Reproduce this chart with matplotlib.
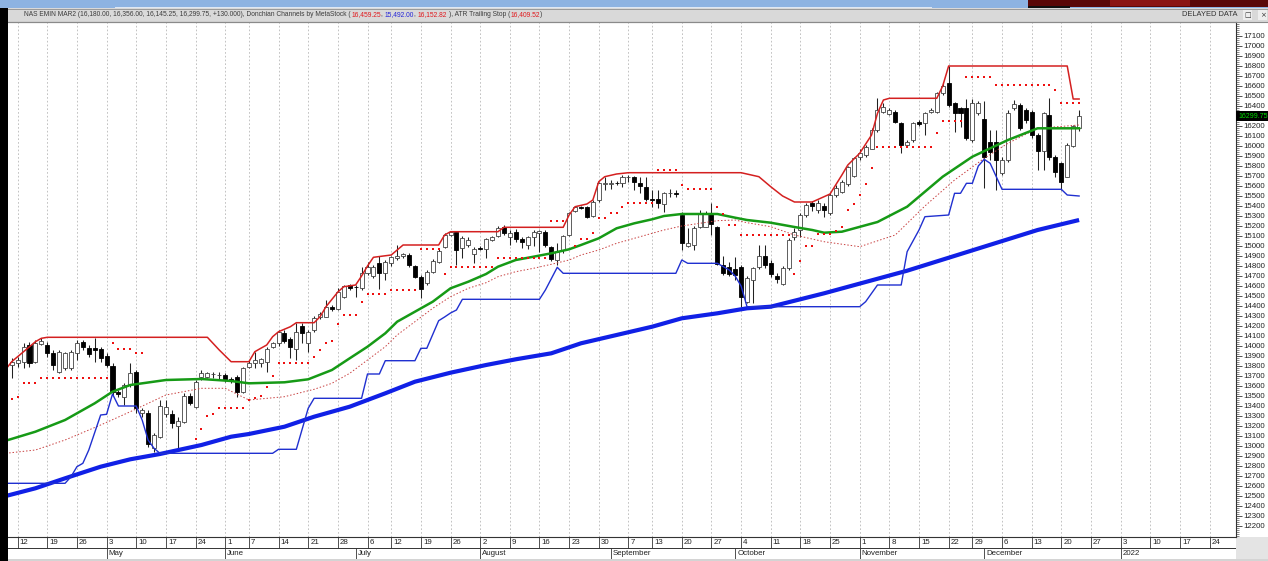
import numpy as np
import pandas as pd
import matplotlib
matplotlib.use("Agg")
import matplotlib.pyplot as plt
from matplotlib.patches import Rectangle

W, H = 1268, 561
FONT = "Liberation Sans"

# ---------------- data ----------------
holidays = ["2021-05-31", "2021-07-05", "2021-09-06", "2021-11-25"]

ohlc = [
    (13810, 13877, 13677, 13843), (13827, 13887, 13793, 13860), (13843, 14027, 13777, 13993),
    (14010, 14043, 13793, 13827), (13843, 14060, 13827, 14033), (14020, 14077, 14010, 14053),
    (14010, 14043, 13893, 13927), (13927, 13960, 13760, 13810), (13743, 13960, 13727, 13937),
    (13777, 13943, 13760, 13927), (13777, 13960, 13760, 13943), (13933, 14060, 13860, 14033),
    (14043, 14060, 13960, 13993), (13977, 14010, 13893, 13917), (13977, 14077, 13843, 13960),
    (13967, 13993, 13843, 13877), (13900, 13927, 13793, 13810), (13800, 13833, 13510, 13543),
    (13543, 13560, 13493, 13520), (13493, 13627, 13410, 13610), (13610, 13833, 13593, 13727),
    (13743, 13760, 13327, 13377), (13333, 13377, 13293, 13360), (13333, 13360, 12993, 13020),
    (12977, 13127, 12943, 13110), (13093, 13460, 13077, 13400), (13320, 13460, 13293, 13393),
    (13320, 13360, 13177, 13227), (13200, 13293, 12977, 13250), (13243, 13527, 13227, 13500),
    (13500, 13527, 13410, 13427), (13393, 13660, 13377, 13643), (13687, 13760, 13660, 13727),
    (13693, 13743, 13677, 13727), (13717, 13743, 13677, 13720), (13710, 13743, 13670, 13713),
    (13710, 13733, 13643, 13660), (13670, 13693, 13627, 13660), (13693, 13710, 13487, 13543),
    (13543, 13793, 13527, 13777), (13793, 13860, 13777, 13827), (13827, 13943, 13777, 13860),
    (13827, 13877, 13793, 13867), (13843, 13987, 13743, 13967), (13993, 14040, 13977, 14027),
    (14027, 14160, 14000, 14143), (14133, 14160, 14027, 14053), (14067, 14093, 13877, 13993),
    (13967, 14227, 13860, 14143), (14200, 14227, 14027, 14133), (14033, 14160, 13943, 14143),
    (14160, 14300, 14143, 14277), (14293, 14340, 14270, 14320), (14293, 14460, 14293, 14393),
    (14393, 14410, 14350, 14367), (14367, 14577, 14360, 14543), (14493, 14610, 14477, 14600),
    (14610, 14620, 14560, 14577), (14593, 14610, 14493, 14587), (14577, 14793, 14560, 14733),
    (14727, 14843, 14710, 14793), (14700, 14810, 14680, 14793), (14827, 14900, 14567, 14733),
    (14727, 14860, 14660, 14843), (14827, 14900, 14800, 14887), (14877, 15010, 14860, 14900),
    (14900, 14930, 14880, 14920), (14910, 14927, 14793, 14810), (14800, 14810, 14677, 14687),
    (14693, 14710, 14477, 14567), (14627, 14760, 14610, 14743), (14743, 14867, 14727, 14850),
    (14843, 14967, 14827, 14953), (14993, 15133, 14977, 15110), (15110, 15150, 15100, 15137),
    (15143, 15143, 14810, 14960), (14977, 15100, 14877, 15077), (15010, 15087, 14987, 15060),
    (14920, 14987, 14833, 14967), (14977, 15000, 14960, 14970), (14967, 15077, 14877, 15067),
    (15060, 15100, 15050, 15087), (15100, 15200, 15087, 15177), (15187, 15210, 15110, 15127),
    (15093, 15160, 15010, 15133), (15143, 15167, 15043, 15067), (15067, 15087, 14977, 15043),
    (15010, 15100, 14967, 15087), (15093, 15160, 15000, 15143), (15127, 15160, 14943, 15150),
    (15143, 15160, 14993, 15010), (14987, 15000, 14853, 14867), (14860, 15027, 14810, 14943),
    (14960, 15110, 14927, 15100), (15110, 15343, 15100, 15327), (15353, 15400, 15340, 15393),
    (15390, 15400, 15370, 15385), (15387, 15400, 15277, 15293), (15300, 15460, 15293, 15443),
    (15460, 15643, 15443, 15627), (15625, 15693, 15560, 15630), (15625, 15660, 15567, 15630),
    (15633, 15650, 15610, 15630), (15627, 15710, 15593, 15687), (15690, 15710, 15643, 15695),
    (15687, 15700, 15560, 15643), (15633, 15687, 15533, 15600), (15587, 15687, 15453, 15467),
    (15470, 15560, 15393, 15465), (15467, 15560, 15377, 15427), (15420, 15543, 15343, 15533),
    (15530, 15567, 15493, 15533), (15527, 15560, 15493, 15525), (15310, 15343, 14960, 15033),
    (15000, 15177, 14993, 15033), (15010, 15200, 14960, 15177), (15193, 15360, 15177, 15327),
    (15193, 15350, 15187, 15333), (15327, 15427, 15110, 15220), (15193, 15200, 14810, 14820),
    (14810, 14900, 14710, 14727), (14787, 14843, 14700, 14720), (14767, 14887, 14660, 14710),
    (14793, 14810, 14393, 14493), (14443, 14700, 14427, 14677), (14660, 14793, 14427, 14777),
    (14787, 15010, 14767, 14900), (14900, 15010, 14777, 14810), (14827, 14860, 14693, 14720),
    (14703, 14727, 14627, 14673), (14620, 14800, 14610, 14777), (14777, 15077, 14760, 15060),
    (15087, 15177, 15060, 15143), (15160, 15327, 15093, 15310), (15310, 15427, 15293, 15410),
    (15433, 15453, 15353, 15400), (15360, 15460, 15327, 15427), (15400, 15427, 15293, 15360),
    (15333, 15527, 15310, 15510), (15510, 15610, 15493, 15577), (15543, 15660, 15527, 15640),
    (15620, 15800, 15600, 15793), (15700, 15893, 15693, 15877), (15893, 15967, 15860, 15927),
    (15910, 16010, 15893, 15993), (15967, 16177, 15967, 16160), (16160, 16477, 16143, 16360),
    (16343, 16427, 16327, 16387), (16320, 16377, 16310, 16360), (16343, 16360, 16227, 16243),
    (16227, 16243, 15927, 16010), (16010, 16060, 16000, 16043), (16060, 16243, 16043, 16227),
    (16243, 16260, 16200, 16220), (16227, 16343, 16110, 16333), (16343, 16377, 16327, 16360),
    (16343, 16543, 16327, 16527), (16527, 16643, 16510, 16600), (16633, 16800, 16393, 16410),
    (16427, 16443, 16143, 16333), (16377, 16393, 16193, 16327), (16383, 16467, 16060, 16077),
    (16060, 16467, 16043, 16427), (16327, 16453, 16310, 16433), (16267, 16453, 15577, 15893),
    (16043, 16160, 15860, 15943), (16043, 16160, 15560, 15860), (15727, 15893, 15710, 15860),
    (15860, 16360, 15843, 16327), (16377, 16460, 16360, 16420), (16410, 16427, 16160, 16177),
    (16360, 16377, 16230, 16260), (16343, 16360, 16077, 16110), (16110, 16127, 15760, 15953),
    (15953, 16343, 15760, 16327), (16310, 16477, 15860, 15893), (15887, 15910, 15693, 15743),
    (15827, 15843, 15560, 15643), (15693, 16027, 15687, 16010), (16000, 16210, 15987, 16200),
    (16180, 16356, 16145.25, 16299.75),
]

donchian_upper = [(-1, 13767), (0, 13843), (2, 13943), (4, 14043), (5, 14077), (6, 14087), (33, 14087),
                  (35, 13960), (37, 13843), (40, 13843), (41, 13943), (42, 13977), (43, 14010), (44, 14093),
                  (45, 14143), (47, 14193), (48, 14233), (51, 14233), (52, 14293), (53, 14393), (55, 14540),
                  (56, 14593), (58, 14610), (59, 14700), (60, 14800), (61, 14887), (64, 14910), (65, 14960),
                  (66, 15010), (72, 15010), (73, 15110), (74, 15143), (82, 15143), (83, 15187), (93, 15187),
                  (94, 15310), (95, 15393), (97, 15420), (98, 15460), (99, 15643), (100, 15693), (102, 15720),
                  (104, 15733), (123, 15733), (126, 15693), (128, 15593), (130, 15500), (132, 15440),
                  (135, 15440), (138, 15520), (140, 15710), (141, 15810), (143, 15927), (145, 16110),
                  (146, 16327), (147, 16460), (148, 16477), (156, 16477), (157, 16600), (158, 16800),
                  (178, 16800), (179, 16470), (180, 16470)]
donchian_lower = [(-1, 12627), (9, 12627), (10, 12693), (11, 12793), (12, 12827), (13, 12960), (15, 13310),
                  (16, 13317), (17, 13520), (18, 13400), (21, 13400), (22, 13260), (23, 13060), (24, 12977),
                  (25, 12927), (44, 12927), (45, 12967), (48, 12967), (50, 13377), (51, 13477), (59, 13477),
                  (60, 13720), (62, 13720), (63, 13853), (68, 13853), (69, 13977), (70, 13977), (72, 14253),
                  (73, 14290), (74, 14330), (75, 14360), (76, 14467), (89, 14467), (90, 14560), (92, 14787),
                  (93, 14727), (112, 14727), (113, 14860), (114, 14827), (119, 14827), (121, 14760),
                  (122, 14700), (123, 14600), (124, 14393), (143, 14393), (144, 14443), (146, 14610),
                  (150, 14610), (151, 14943), (153, 15160), (154, 15293), (158, 15310), (159, 15527),
                  (160, 15527), (161, 15627), (162, 15627), (163, 15800), (164, 15867), (165, 15827),
                  (167, 15567), (177, 15567), (178, 15510), (180, 15500)]
green_ma = [(-1, 13053), (4, 13143), (9, 13260), (14, 13427), (17, 13543), (20, 13610), (26, 13660),
            (32, 13670), (37, 13650), (40, 13627), (46, 13637), (50, 13667), (54, 13760), (57, 13877),
            (60, 13993), (63, 14127), (65, 14243), (68, 14343), (71, 14443), (74, 14577), (77, 14643),
            (80, 14720), (82, 14793), (85, 14860), (88, 14893), (91, 14927), (94, 14967), (96, 15010),
            (99, 15077), (102, 15177), (105, 15227), (108, 15267), (110, 15300), (113, 15320),
            (119, 15320), (122, 15283), (124, 15260), (128, 15233), (132, 15190), (135, 15160),
            (137, 15133), (140, 15143), (146, 15240), (151, 15393), (157, 15693), (162, 15893),
            (168, 16060), (173, 16177), (180, 16177)]
red_dotted_ma = [(-1, 12927), (4, 12960), (9, 13060), (15, 13210), (20, 13343), (26, 13510), (32, 13577),
                 (36, 13577), (40, 13460), (46, 13493), (51, 13567), (54, 13627), (57, 13727), (60, 13860),
                 (63, 13993), (65, 14110), (68, 14243), (71, 14377), (74, 14493), (77, 14577), (80, 14633),
                 (82, 14693), (85, 14743), (88, 14777), (91, 14817), (94, 14860), (96, 14910), (99, 14960),
                 (102, 15027), (105, 15077), (108, 15127), (110, 15160), (113, 15200), (119, 15253),
                 (122, 15260), (124, 15233), (128, 15193), (132, 15110), (137, 15043), (143, 14993),
                 (149, 15110), (154, 15400), (159, 15660), (164, 15877), (168, 16027), (173, 16177),
                 (180, 16210)]
long_ma = [(-1, 12500), (4, 12577), (9, 12677), (15, 12793), (20, 12867), (25, 12920), (32, 13010),
           (37, 13093), (40, 13120), (46, 13193), (51, 13293), (57, 13393), (63, 13527), (68, 13643),
           (74, 13733), (80, 13810), (85, 13867), (91, 13927), (96, 14027), (102, 14110), (108, 14193),
           (113, 14277), (119, 14327), (124, 14377), (128, 14393), (137, 14527), (151, 14753),
           (173, 15160), (180, 15260)]
atr_runs = [(0, 0, 13467), (1, 1, 13487), (2, 4, 13633), (5, 16, 13677), (17, 17, 14033), (18, 20, 13967),
            (21, 22, 13933), (31, 31, 13067), (32, 32, 13167), (33, 33, 13303), (34, 34, 13320),
            (35, 39, 13377), (40, 40, 13460), (41, 41, 13483), (42, 42, 13500), (43, 43, 13593),
            (44, 44, 13700), (45, 50, 13827), (51, 51, 13887), (52, 52, 13960), (53, 53, 14033),
            (54, 54, 14053), (55, 55, 14220), (56, 58, 14310), (59, 59, 14440), (60, 63, 14520),
            (64, 68, 14560), (69, 72, 14970), (73, 73, 14720), (74, 81, 14793), (82, 90, 14877),
            (91, 93, 15250), (95, 95, 15000), (96, 97, 15067), (98, 98, 15133), (99, 100, 15277),
            (101, 102, 15327), (103, 103, 15393), (104, 108, 15433), (109, 112, 15760), (113, 113, 15610),
            (114, 118, 15570), (119, 119, 15387), (120, 120, 15320), (121, 122, 15215), (123, 131, 15110),
            (132, 132, 14720), (133, 133, 14850), (134, 135, 15000), (136, 138, 15120), (139, 139, 15153),
            (140, 140, 15187), (141, 141, 15360), (142, 142, 15420), (143, 143, 15510), (144, 144, 15620),
            (145, 145, 15777), (146, 155, 15987), (156, 156, 16133), (157, 160, 16250), (161, 165, 16687),
            (166, 175, 16610), (176, 176, 16560), (177, 180, 16433)]

price_ticks = list(range(12200, 17101, 100))
last_price_label = "16299.75"
header_segments = [
    ("NAS EMIN MAR2 (16,180.00, 16,356.00, 16,145.25, 16,299.75, +130.000), Donchian Channels by MetaStock (", "#3c3c3c"),
    ("16,459.25", "#e0181c"), (", ", "#3c3c3c"), ("15,492.00", "#2424d8"), (", ", "#3c3c3c"),
    ("16,152.82", "#e0181c"), (" ), ATR Trailing Stop (", "#3c3c3c"), ("16,409.52", "#e0181c"), (")", "#3c3c3c"),
]
month_names = {1: "2022", 5: "May", 6: "June", 7: "July", 8: "August", 9: "September",
               10: "October", 11: "November", 12: "December"}

# ---------------- layout helpers ----------------
X0PIX, DX = 11.7, 5.93          # pixel of day 0 and pixel spacing per day
XL = (8 - X0PIX) / DX
XR = (1236 - X0PIX) / DX
YB, YT = 12090, 17240
HEADER_BG = "#d9d9d9"

days = pd.bdate_range("2021-04-09", "2022-01-28")
days = days[~days.isin(pd.to_datetime(holidays))]

fig = plt.figure(figsize=(W / 100, H / 100), dpi=100)
fig.patch.set_facecolor("white")


def fx(px):
    return px / W


def fy(py):
    return 1 - py / H


def rect(x0, y0, x1, y1, color, z=0):
    fig.add_artist(Rectangle((fx(x0), fy(y1)), (x1 - x0) / W, (y1 - y0) / H, transform=fig.transFigure,
                             facecolor=color, edgecolor="none", zorder=z))


def hline(x0, x1, y, color, lw=0.8, z=1):
    fig.add_artist(plt.Line2D([fx(x0), fx(x1)], [fy(y), fy(y)], transform=fig.transFigure, color=color,
                              lw=lw, zorder=z))


# window chrome
rect(0, 0, 1268, 8, "#8db3e2")
rect(115, 7, 932, 8, "#dde7f4", 1)
rect(1028, 0, 1268, 7, "#5a0808", 1)
rect(1110, 0, 1190, 6, "#8a1414", 1)
rect(1028, 6, 1070, 8, "#111111", 1)
rect(0, 8, 1268, 22, HEADER_BG)
hline(0, 1268, 8.5, "#9a9a9a", 0.7)
hline(0, 1268, 21.7, "#8a8a8a", 0.8)
rect(0, 8, 7.5, 561, "#000000", 5)
rect(1236, 537, 1268, 561, "#e4e4e4", 0)
rect(0, 559, 1268, 561, "#d4d4d4", 0)

# ---------------- main axes ----------------
ax = fig.add_axes([fx(8), fy(537), (1236 - 8) / W, (537 - 22) / H])
ax.set_xlim(XL, XR)
ax.set_ylim(YB, YT)
ax.set_facecolor("white")
ax.spines["left"].set_visible(False)
ax.spines["top"].set_color("#7a7a7a")
ax.spines["right"].set_color("#333333")
ax.spines["bottom"].set_color("#333333")
for s in ["top", "right", "bottom"]:
    ax.spines[s].set_linewidth(0.8)
ax.set_xticks([])
ax.yaxis.tick_right()
ax.set_yticks(price_ticks)
ax.set_yticklabels(["" if p == 16300 else str(p) for p in price_ticks], family=FONT, fontsize=5.7, color="#222222")
ax.set_yticks(np.arange(12100, 17241, 20), minor=True)
ax.tick_params(axis="y", which="major", length=4, width=0.6, color="#333333", pad=1.5)
ax.tick_params(axis="y", which="minor", length=2, width=0.5, color="#555555")

# week and month positions
week_pos, week_lab, month_pos, month_lab = [], [], [], []
for i in range(1, len(days)):
    if days[i].isocalendar()[1] != days[i - 1].isocalendar()[1]:
        week_pos.append(i)
        week_lab.append(str(days[i].day))
    if days[i].month != days[i - 1].month:
        month_pos.append(i)
        month_lab.append(month_names.get(days[i].month, ""))

ax.vlines(week_pos, YB, YT, colors="#b8b8b8", linestyles=(0, (2, 2.5)), linewidth=0.6, zorder=0)

# candles
arr = np.array(ohlc, dtype=float)
O, Hh, L, C = arr[:, 0], arr[:, 1], arr[:, 2], arr[:, 3]
xk = np.arange(len(arr))
up = C >= O
ax.vlines(xk, L, Hh, colors="#222222", linewidth=0.75, zorder=2)
lo = np.minimum(O, C)
hgt = np.abs(C - O)
ax.bar(xk[up], hgt[up], bottom=lo[up], width=0.68, facecolor="white", edgecolor="#444444", linewidth=0.6, zorder=3)
ax.bar(xk[~up], hgt[~up], bottom=lo[~up], width=0.68, facecolor="black", edgecolor="black", linewidth=0.6, zorder=3)


def plot_pts(pts, **kw):
    k, v = zip(*pts)
    ax.plot(k, v, **kw)


plot_pts(long_ma, color="#1020e6", lw=3.0, zorder=4, solid_capstyle="butt")
plot_pts(red_dotted_ma, color="#c84040", lw=0.7, ls=(0, (1.5, 2)), zorder=4)
plot_pts(green_ma, color="#169a16", lw=1.8, zorder=5)
plot_pts(donchian_lower, color="#2030d0", lw=1.0, zorder=5)
plot_pts(donchian_upper, color="#d42020", lw=1.1, zorder=5)

atr = np.full(len(arr), np.nan)
for a, b, v in atr_runs:
    atr[a:b + 1] = v
ax.plot(xk, atr, ls="none", marker="s", markersize=2.1, color="#ee1010", markeredgewidth=0, zorder=6,
        antialiased=False)

# last price box
price_y = 22 + (YT - 16299.75) / (YT - YB) * 515
fig.text(fx(1238), fy(price_y), last_price_label, color="#00dd00", fontsize=5.0, family=FONT, va="center",
         ha="left", bbox=dict(facecolor="black", edgecolor="none", pad=1.2), zorder=10)

# ---------------- bottom date panel ----------------
axb = fig.add_axes([fx(8), fy(559), (1236 - 8) / W, (559 - 537) / H])
axb.set_xlim(XL, XR)
axb.set_ylim(0, 2)
axb.axis("off")
axb.axhline(1, color="#333333", lw=0.7)
axb.axhline(0.03, color="#888888", lw=0.7)
axb.vlines(week_pos, 1, 2, colors="#333333", linewidth=0.6)
axb.vlines(month_pos, 0, 1, colors="#333333", linewidth=0.6)
for p, t in zip(week_pos, week_lab):
    axb.text(p + 0.35, 1.5, t, fontsize=5.7, family=FONT, color="#222222", va="center", ha="left", clip_on=True)
for p, t in zip(month_pos, month_lab):
    axb.text(p + 0.35, 0.5, t, fontsize=5.7, family=FONT, color="#222222", va="center", ha="left", clip_on=True)

# ---------------- header text: segments placed at measured prefix advances ----------------
renderer = fig.canvas.get_renderer()


def text_w(s, size):
    t = fig.text(0, 0, s, fontsize=size, family=FONT)
    w = t.get_window_extent(renderer).width
    t.remove()
    return w


full = "".join(s for s, _ in header_segments)
fs = 10 * 516 / text_w(full, 10)
ref_w = text_w("x", fs)
pos = 0
for s, col in header_segments:
    start = pos + (len(s) - len(s.lstrip()))
    off = 0 if start == 0 else text_w(full[:start] + "x", fs) - ref_w
    fig.text(fx(24.5 + off), fy(15), s.strip(), fontsize=fs, family=FONT, color=col, va="center", ha="left",
             zorder=10)
    pos += len(s)

fig.text(fx(1182), fy(15), "DELAYED DATA", fontsize=5.4, family=FONT, color="#333333", va="center", ha="left")
for bx, sym in [(1243, "\u25a1"), (1258, "\u00d7")]:
    rect(bx, 10, bx + 9, 20, "#eeeeee", 2)
    fig.text(fx(bx + 4.5), fy(15), sym, fontsize=5, family="DejaVu Sans", color="#333333", va="center",
             ha="center", zorder=3)

fig.savefig("out.png", dpi=100)
